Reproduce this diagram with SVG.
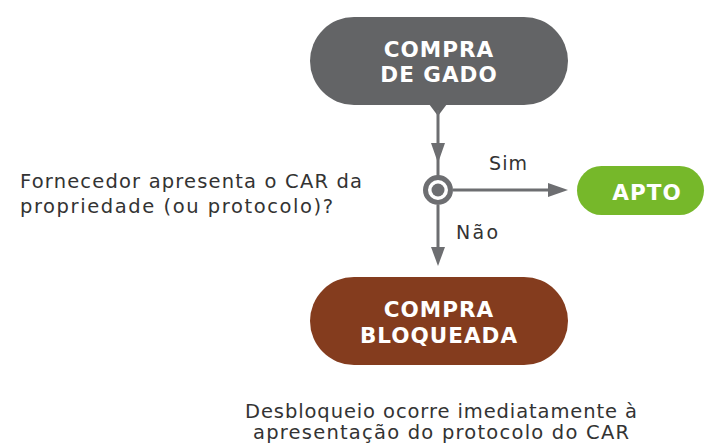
<svg xmlns="http://www.w3.org/2000/svg" width="711" height="443" viewBox="0 0 711 443">
<style>
.ntxt{font-family:"DejaVu Sans",sans-serif;font-weight:bold;font-size:21.5px;fill:#fff;text-anchor:middle;letter-spacing:1px}
.body{font-family:"DejaVu Sans",sans-serif;font-size:19.5px;fill:#333}
.lbl{font-family:"DejaVu Sans",sans-serif;font-size:19px;fill:#333}
.ln{stroke:#6d6e71;stroke-width:3;fill:none}
.ah{fill:#6d6e71}
</style>
<rect width="711" height="443" fill="#fff"/>
<g id="compra-gado">
<rect x="310" y="17" width="258" height="88" rx="44" fill="#636466"/>
<polygon points="429,104 447,104 438,116" fill="#636466"/>
<text class="ntxt" x="439" y="57">COMPRA</text>
<text class="ntxt" x="439" y="82">DE GADO</text>
</g>
<g id="connectors">
<line class="ln" x1="438" y1="110" x2="438" y2="176"/>
<polygon class="ah" points="431,143 445,143 438,163"/>
<line class="ln" x1="453" y1="190" x2="555" y2="190"/>
<polygon class="ah" points="548,183 548,197 568,190"/>
<line class="ln" x1="438" y1="205" x2="438" y2="252"/>
<polygon class="ah" points="431,247 445,247 438,266"/>
<text class="lbl" x="489" y="170" textLength="38" lengthAdjust="spacing">Sim</text>
<text class="lbl" x="456" y="239" textLength="42" lengthAdjust="spacing">Não</text>
</g>
<g id="decisao">
<circle cx="438" cy="190" r="12.5" fill="#fff" stroke="#6d6e71" stroke-width="5"/>
<circle cx="438" cy="190" r="6.5" fill="#6d6e71"/>
<text class="body" x="20" y="188" textLength="342" lengthAdjust="spacing">Fornecedor apresenta o CAR da</text>
<text class="body" x="20" y="213" textLength="313" lengthAdjust="spacing">propriedade (ou protocolo)?</text>
</g>
<g id="apto">
<rect x="577" y="166" width="127" height="49" rx="24.5" fill="#76b82a"/>
<text class="ntxt" x="647" y="200">APTO</text>
</g>
<g id="compra-bloqueada">
<rect x="310" y="277" width="258" height="88" rx="44" fill="#843c1e"/>
<text class="ntxt" x="439" y="317">COMPRA</text>
<text class="ntxt" x="439" y="343">BLOQUEADA</text>
</g>
<g id="nota">
<text class="body" x="245" y="418" textLength="392" lengthAdjust="spacing">Desbloqueio ocorre imediatamente à</text>
<text class="body" x="253" y="439" textLength="376" lengthAdjust="spacing">apresentação do protocolo do CAR</text>
</g>
</svg>
